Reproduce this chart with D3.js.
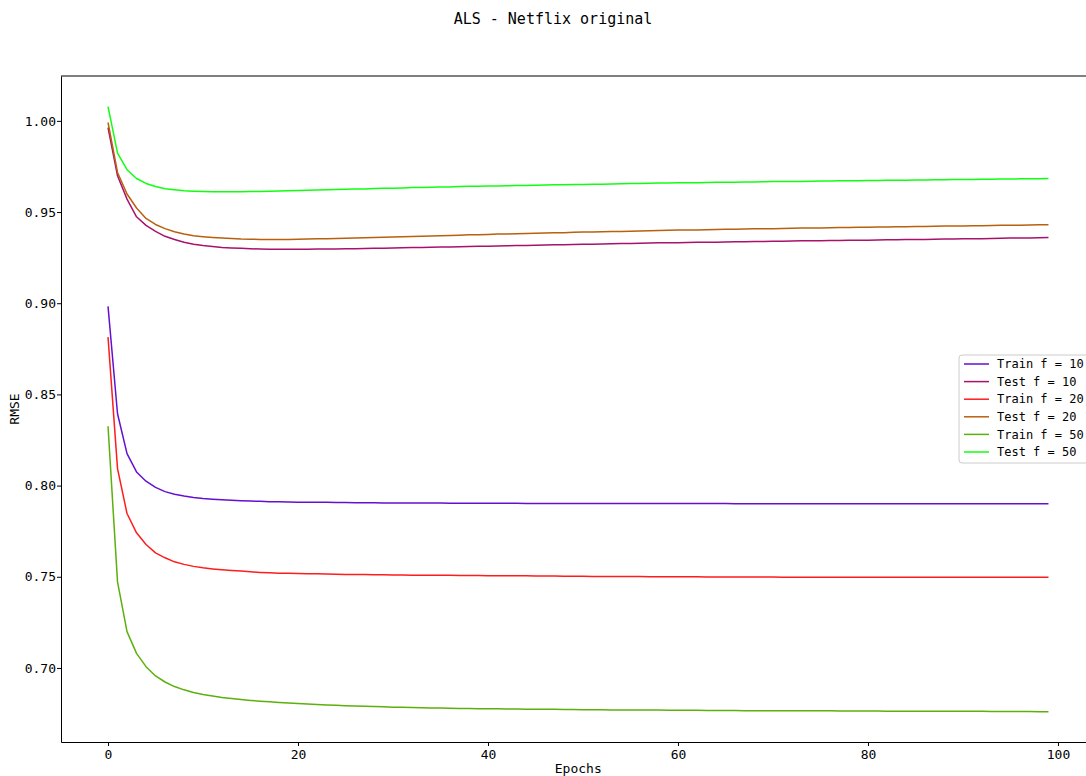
<!DOCTYPE html>
<html>
<head>
<meta charset="utf-8">
<script src="https://cdn.jsdelivr.net/npm/d3@7"></script>
<style>
  body { margin: 0; background: #fff; }
  svg { display: block; }
  text { font-family: "DejaVu Sans Mono", monospace; fill: #000; }
</style>
</head>
<body>
<div id="chart"></div>
<script>
// RMSE per epoch
var epochs = d3.range(0, 100);

var trainF10 = [
  0.8983, 0.8394, 0.8175, 0.8075, 0.8024, 0.7990, 0.7967, 0.7953, 0.7943, 0.7935,
  0.7929, 0.7925, 0.7922, 0.7919, 0.7917, 0.7915, 0.7914, 0.7912, 0.7911, 0.7910,
  0.7909, 0.7909, 0.7908, 0.7908, 0.7907, 0.7907, 0.7906, 0.7906, 0.7906, 0.7905,
  0.7905, 0.7905, 0.7904, 0.7904, 0.7904, 0.7904, 0.7903, 0.7903, 0.7903, 0.7903,
  0.7903, 0.7903, 0.7903, 0.7903, 0.7902, 0.7902, 0.7902, 0.7902, 0.7902, 0.7902,
  0.7902, 0.7902, 0.7902, 0.7902, 0.7902, 0.7902, 0.7902, 0.7902, 0.7902, 0.7902,
  0.7902, 0.7902, 0.7902, 0.7902, 0.7902, 0.7902, 0.7901, 0.7901, 0.7901, 0.7901,
  0.7901, 0.7901, 0.7901, 0.7901, 0.7901, 0.7901, 0.7901, 0.7901, 0.7901, 0.7901,
  0.7901, 0.7901, 0.7901, 0.7901, 0.7901, 0.7901, 0.7901, 0.7901, 0.7901, 0.7901,
  0.7901, 0.7901, 0.7901, 0.7901, 0.7901, 0.7901, 0.7901, 0.7901, 0.7901, 0.7901
];

var testF10 = [
  0.9963, 0.9699, 0.9571, 0.9474, 0.9427, 0.9394, 0.9367, 0.9349, 0.9334, 0.9323,
  0.9316, 0.9311, 0.9306, 0.9303, 0.9301, 0.9299, 0.9297, 0.9296, 0.9296, 0.9296,
  0.9296, 0.9296, 0.9297, 0.9297, 0.9298, 0.9299, 0.9299, 0.9300, 0.9301, 0.9302,
  0.9303, 0.9304, 0.9305, 0.9306, 0.9307, 0.9308, 0.9309, 0.9310, 0.9311, 0.9312,
  0.9313, 0.9314, 0.9315, 0.9316, 0.9317, 0.9318, 0.9319, 0.9320, 0.9321, 0.9322,
  0.9323, 0.9324, 0.9325, 0.9326, 0.9327, 0.9328, 0.9329, 0.9330, 0.9331, 0.9332,
  0.9332, 0.9333, 0.9334, 0.9335, 0.9335, 0.9336, 0.9337, 0.9337, 0.9338, 0.9339,
  0.9340, 0.9340, 0.9341, 0.9342, 0.9342, 0.9343, 0.9344, 0.9344, 0.9345, 0.9346,
  0.9346, 0.9347, 0.9348, 0.9348, 0.9349, 0.9350, 0.9350, 0.9351, 0.9352, 0.9352,
  0.9353, 0.9354, 0.9354, 0.9355, 0.9356, 0.9357, 0.9357, 0.9358, 0.9359, 0.9360
];

var trainF20 = [
  0.8814, 0.8093, 0.7847, 0.7741, 0.7677, 0.7631, 0.7604, 0.7582, 0.7568, 0.7557,
  0.7549, 0.7543, 0.7538, 0.7534, 0.7531, 0.7527, 0.7524, 0.7522, 0.7520, 0.7519,
  0.7518, 0.7517, 0.7516, 0.7515, 0.7514, 0.7513, 0.7512, 0.7512, 0.7511, 0.7511,
  0.7510, 0.7510, 0.7509, 0.7509, 0.7508, 0.7508, 0.7508, 0.7507, 0.7507, 0.7507,
  0.7506, 0.7506, 0.7506, 0.7505, 0.7505, 0.7504, 0.7504, 0.7504, 0.7503, 0.7503,
  0.7503, 0.7502, 0.7502, 0.7502, 0.7501, 0.7501, 0.7501, 0.7500, 0.7500, 0.7500,
  0.7500, 0.7500, 0.7500, 0.7499, 0.7499, 0.7499, 0.7499, 0.7499, 0.7499, 0.7499,
  0.7499, 0.7498, 0.7498, 0.7498, 0.7498, 0.7498, 0.7498, 0.7498, 0.7498, 0.7498,
  0.7498, 0.7498, 0.7497, 0.7497, 0.7497, 0.7497, 0.7497, 0.7497, 0.7497, 0.7497,
  0.7497, 0.7497, 0.7497, 0.7497, 0.7497, 0.7497, 0.7497, 0.7497, 0.7497, 0.7497
];

var testF20 = [
  0.9991, 0.9717, 0.9599, 0.9522, 0.9465, 0.9432, 0.9409, 0.9392, 0.9380, 0.9370,
  0.9365, 0.9361, 0.9358, 0.9355, 0.9352, 0.9351, 0.9350, 0.9350, 0.9350, 0.9350,
  0.9351, 0.9352, 0.9353, 0.9354, 0.9355, 0.9356, 0.9358, 0.9359, 0.9360, 0.9362,
  0.9363, 0.9364, 0.9366, 0.9367, 0.9369, 0.9370, 0.9372, 0.9373, 0.9375, 0.9376,
  0.9377, 0.9379, 0.9380, 0.9381, 0.9382, 0.9384, 0.9385, 0.9386, 0.9387, 0.9389,
  0.9390, 0.9391, 0.9392, 0.9393, 0.9394, 0.9395, 0.9396, 0.9397, 0.9399, 0.9400,
  0.9401, 0.9401, 0.9402, 0.9403, 0.9404, 0.9405, 0.9406, 0.9407, 0.9408, 0.9408,
  0.9409, 0.9410, 0.9411, 0.9412, 0.9412, 0.9413, 0.9414, 0.9415, 0.9415, 0.9416,
  0.9417, 0.9418, 0.9418, 0.9419, 0.9420, 0.9421, 0.9421, 0.9422, 0.9423, 0.9423,
  0.9424, 0.9425, 0.9425, 0.9426, 0.9427, 0.9428, 0.9428, 0.9429, 0.9430, 0.9431
];

var trainF50 = [
  0.8325, 0.7472, 0.7199, 0.7080, 0.7007, 0.6956, 0.6923, 0.6898, 0.6880, 0.6865,
  0.6854, 0.6846, 0.6838, 0.6832, 0.6827, 0.6822, 0.6818, 0.6815, 0.6811, 0.6808,
  0.6805, 0.6802, 0.6800, 0.6797, 0.6795, 0.6793, 0.6791, 0.6790, 0.6788, 0.6787,
  0.6785, 0.6784, 0.6783, 0.6782, 0.6781, 0.6780, 0.6779, 0.6778, 0.6778, 0.6777,
  0.6776, 0.6776, 0.6775, 0.6775, 0.6774, 0.6774, 0.6773, 0.6773, 0.6772, 0.6772,
  0.6771, 0.6771, 0.6771, 0.6770, 0.6770, 0.6770, 0.6769, 0.6769, 0.6769, 0.6768,
  0.6768, 0.6768, 0.6768, 0.6767, 0.6767, 0.6767, 0.6767, 0.6766, 0.6766, 0.6766,
  0.6766, 0.6766, 0.6765, 0.6765, 0.6765, 0.6765, 0.6765, 0.6764, 0.6764, 0.6764,
  0.6764, 0.6764, 0.6763, 0.6763, 0.6763, 0.6763, 0.6763, 0.6762, 0.6762, 0.6762,
  0.6762, 0.6762, 0.6762, 0.6761, 0.6761, 0.6761, 0.6761, 0.6761, 0.6760, 0.6760
];

var testF50 = [
  1.0078, 0.9823, 0.9732, 0.9684, 0.9657, 0.9640, 0.9628, 0.9622, 0.9617, 0.9614,
  0.9612, 0.9611, 0.9611, 0.9611, 0.9611, 0.9612, 0.9613, 0.9614, 0.9615, 0.9617,
  0.9618, 0.9619, 0.9621, 0.9622, 0.9623, 0.9625, 0.9626, 0.9627, 0.9629, 0.9630,
  0.9631, 0.9632, 0.9634, 0.9635, 0.9636, 0.9637, 0.9638, 0.9640, 0.9641, 0.9642,
  0.9643, 0.9643, 0.9644, 0.9645, 0.9646, 0.9647, 0.9648, 0.9649, 0.9650, 0.9651,
  0.9651, 0.9652, 0.9653, 0.9654, 0.9655, 0.9656, 0.9657, 0.9658, 0.9659, 0.9659,
  0.9660, 0.9661, 0.9661, 0.9662, 0.9663, 0.9663, 0.9664, 0.9665, 0.9665, 0.9666,
  0.9667, 0.9667, 0.9668, 0.9668, 0.9669, 0.9670, 0.9670, 0.9671, 0.9671, 0.9672,
  0.9673, 0.9673, 0.9674, 0.9674, 0.9675, 0.9676, 0.9676, 0.9677, 0.9677, 0.9678,
  0.9678, 0.9679, 0.9680, 0.9680, 0.9681, 0.9681, 0.9682, 0.9682, 0.9683, 0.9684
];

var seriesNames = ["Train f = 10", "Test f = 10", "Train f = 20", "Test f = 20", "Train f = 50", "Test f = 50"];
var seriesValues = [trainF10, testF10, trainF20, testF20, trainF50, testF50];
var seriesColors = ["#6410d0", "#a8126a", "#ff1c1c", "#b8600e", "#5cb00c", "#10ff10"];

var xTicks = [0, 20, 40, 60, 80, 100];
var yTicks = [0.70, 0.75, 0.80, 0.85, 0.90, 0.95, 1.00];

var W = 1086, H = 776;
var margin = {top: 76, left: 61};
// plot area extends past the right edge of the window, as in the reference
var plotRight = 1095.5, plotBottom = 742;

var svg = d3.select("#chart")
  .append("svg")
    .attr("width", W)
    .attr("height", H);

var x = d3.scaleLinear()
  .domain([-4.95, 103.95])
  .range([margin.left, plotRight]);

var y = d3.scaleLinear()
  .domain([0.6594, 1.0246])
  .range([plotBottom, margin.top]);

// title
svg.append("text")
  .attr("x", 553)
  .attr("y", 24)
  .attr("text-anchor", "middle")
  .style("font-size", "15px")
  .text("ALS - Netflix original");

// lines
var line = d3.line()
  .x(function (d, i) { return x(epochs[i]); })
  .y(function (d) { return y(d); });

var plot = svg.append("g");
seriesValues.forEach(function (vals, i) {
  plot.append("path")
    .datum(vals)
    .attr("fill", "none")
    .attr("stroke", seriesColors[i])
    .attr("stroke-width", 1.5)
    .attr("stroke-linejoin", "round")
    .attr("d", line);
});

// axes
var xAxis = svg.append("g")
  .attr("transform", "translate(0," + plotBottom + ")")
  .call(d3.axisBottom(x).tickValues(xTicks).tickSize(4).tickPadding(4).tickSizeOuter(0));

var yAxis = svg.append("g")
  .attr("transform", "translate(" + margin.left + ",0)")
  .call(d3.axisLeft(y).tickValues(yTicks).tickFormat(d3.format(".2f")).tickSize(4).tickPadding(1).tickSizeOuter(0));

[xAxis, yAxis].forEach(function (a) {
  a.selectAll("text").style("font-size", "13px").style("font-family", "'DejaVu Sans Mono', monospace");
  a.selectAll("line").attr("stroke", "#000");
  a.select(".domain").attr("stroke", "#000");
});

// top and right spines
svg.append("line")
  .attr("x1", margin.left).attr("x2", plotRight)
  .attr("y1", margin.top).attr("y2", margin.top)
  .attr("stroke", "#000");
svg.append("line")
  .attr("x1", plotRight).attr("x2", plotRight)
  .attr("y1", margin.top).attr("y2", plotBottom)
  .attr("stroke", "#000");

// axis labels
svg.append("text")
  .attr("x", x(49.5))
  .attr("y", 773)
  .attr("text-anchor", "middle")
  .style("font-size", "13px")
  .text("Epochs");

svg.append("text")
  .attr("transform", "translate(19," + y(0.842) + ") rotate(-90)")
  .attr("text-anchor", "middle")
  .style("font-size", "13px")
  .text("RMSE");

// legend
var legend = svg.append("g").attr("transform", "translate(959,355)");
legend.append("rect")
  .attr("width", 132)
  .attr("height", 108)
  .attr("rx", 3)
  .attr("fill", "#fff")
  .attr("fill-opacity", 0.8)
  .attr("stroke", "#ccc");

seriesNames.forEach(function (name, i) {
  var row = legend.append("g").attr("transform", "translate(0," + (9 + i * 17.6) + ")");
  row.append("line")
    .attr("x1", 5).attr("x2", 30)
    .attr("stroke", seriesColors[i])
    .attr("stroke-width", 1.5);
  row.append("text")
    .attr("x", 38)
    .attr("dy", "0.35em")
    .style("font-size", "12px")
    .text(name);
});
</script>
</body>
</html>
